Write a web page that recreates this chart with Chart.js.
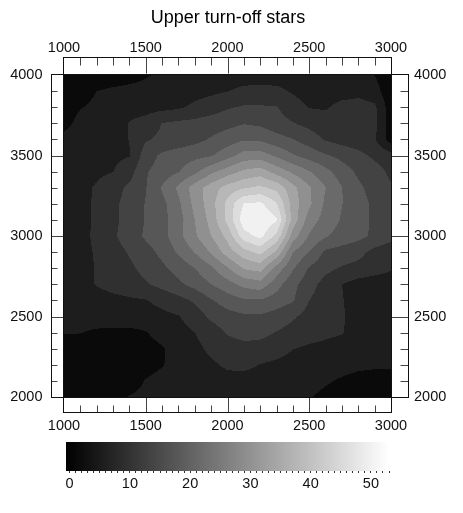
<!DOCTYPE html>
<html>
<head>
<meta charset="utf-8">
<script src="https://cdn.jsdelivr.net/npm/chart.js@4.4.1/dist/chart.umd.min.js"></script>
<style>
html,body{margin:0;padding:0;background:#fff;}
#wrap{position:relative;width:463px;height:513px;}
#wrap canvas{position:absolute;left:0;top:0;}
</style>
</head>
<body>
<div id="wrap">
<canvas id="main" width="463" height="513"></canvas>
<canvas id="cbar" width="463" height="513"></canvas>
</div>
<script>
// ---------- data ----------
const chartTitle = 'Upper turn-off stars';
const xGrid = [1000,1100,1200,1300,1400,1500,1600,1700,1800,1900,2000,2100,2200,2300,2400,2500,2600,2700,2800,2900,3000];
const yGrid = [4000,3900,3800,3700,3600,3500,3400,3300,3200,3100,3000,2900,2800,2700,2600,2500,2400,2300,2200,2100,2000];
// density[row for yGrid][column for xGrid]
const density = [
 [0.4,0.8,1.2,1.6,2.4,3.6,4.8,5.2,5.6,6.0,6.4,6.4,6.4,6.4,6.2,6.0,5.6,5.6,5.2,3.9,1.2],
 [1.2,2.4,4.0,4.8,5.2,5.4,5.6,6.0,6.6,7.2,7.9,8.8,9.0,8.8,7.6,6.4,6.0,6.4,6.8,5.6,1.2],
 [2.0,3.8,4.8,5.2,6.4,6.4,6.8,7.4,8.8,10.0,11.6,12.4,12.4,12.2,9.6,7.8,7.6,9.2,9.6,8.8,1.6],
 [2.8,5.2,5.6,6.0,8.2,9.6,12.1,12.8,13.2,14.0,14.8,15.8,15.2,13.6,12.2,10.8,9.6,10.0,10.4,9.2,2.0],
 [5.2,5.6,6.0,6.4,8.1,11.6,12.8,13.6,14.8,16.4,18.0,19.6,19.2,17.6,16.1,14.0,11.6,10.4,9.6,8.4,2.0],
 [6.0,6.4,6.8,7.2,7.8,14.0,16.8,18.0,18.8,19.6,22.4,25.6,26.0,23.2,20.4,18.4,16.4,14.8,13.2,11.2,9.6],
 [6.4,6.8,7.2,7.9,10.4,15.6,17.8,19.8,23.0,27.0,30.0,32.8,34.0,30.4,27.2,24.2,21.2,18.0,15.2,13.6,11.2],
 [6.2,7.0,8.4,10.4,12.8,15.8,20.4,24.8,30.0,34.0,37.6,39.6,40.8,38.8,33.2,28.4,24.1,20.1,16.8,14.4,12.4],
 [6.0,6.8,8.6,11.0,13.6,16.2,18.8,23.2,29.2,34.4,41.2,48.2,48.8,44.4,34.0,28.8,23.2,20.1,17.6,15.2,13.2],
 [6.0,6.8,8.6,11.0,13.6,16.2,18.6,22.2,28.0,33.4,41.2,50.4,52.0,48.4,34.4,26.0,22.4,19.6,17.6,15.2,13.2],
 [6.0,6.8,8.8,11.4,14.0,16.6,18.4,22.8,27.4,32.0,37.2,46.4,49.2,43.0,30.0,23.6,20.4,18.4,17.2,15.2,13.2],
 [6.0,6.8,8.4,10.2,12.4,14.6,17.0,20.6,24.2,28.4,34.0,38.4,41.2,35.2,24.0,19.8,15.2,14.4,13.2,10.8,9.6],
 [6.0,6.8,8.2,9.6,11.2,13.2,15.2,17.4,20.0,23.2,27.6,32.4,33.6,26.4,20.4,15.6,13.2,11.6,10.8,9.6,8.4],
 [6.0,6.8,8.2,9.2,10.2,11.6,13.2,15.2,17.4,20.0,22.4,25.2,26.4,21.6,17.2,13.6,10.4,8.0,6.4,6.0,6.0],
 [5.8,6.2,6.6,7.0,7.4,7.8,9.2,10.6,12.6,15.6,18.0,19.4,19.6,18.0,16.4,12.0,9.8,8.2,6.4,5.6,5.6],
 [5.4,5.6,5.8,6.0,6.2,6.4,7.0,7.8,10.0,12.8,14.4,15.4,15.4,14.4,12.6,10.4,9.2,8.4,6.4,5.6,5.4],
 [4.2,4.1,3.4,3.2,3.0,3.8,5.2,6.4,8.0,10.0,12.4,13.4,13.2,11.8,10.4,9.4,8.8,8.2,6.4,5.4,5.2],
 [2.4,2.2,2.0,2.0,2.2,2.8,3.7,5.4,7.0,8.8,10.0,10.8,10.4,9.6,8.1,7.4,7.0,6.4,5.8,5.2,5.0],
 [2.0,1.8,1.8,2.0,2.2,2.8,3.8,5.2,6.4,7.4,8.6,8.8,7.9,7.2,6.4,6.0,5.6,5.2,4.8,4.6,4.6],
 [1.6,1.6,1.6,1.8,2.4,4.2,5.0,5.6,6.0,6.4,6.8,6.8,6.6,6.0,5.6,5.2,4.4,3.6,2.8,2.4,2.4],
 [1.2,1.2,1.4,2.0,4.2,4.8,5.2,5.4,5.6,5.8,6.0,6.0,5.8,5.4,4.8,4.2,3.2,2.4,2.0,1.6,1.6]
];
const levels = [0,4,8,12,16,20,24,28,32,36,40,44,48];
const xTicks = [1000,1500,2000,2500,3000];
const yTicks = [2000,2500,3000,3500,4000];
const minorStep = 100;
const cbRange = [-0.6, 53];
const cbTicks = [0,10,20,30,40,50];
const cbMinorStep = 1;

// ---------- helpers ----------
const FONT = "'Liberation Sans', Arial, Helvetica, sans-serif";
const tickFont = {family: FONT, size: 14.5};
function grayOf(v) {
  const g = Math.round(255 * v / cbRange[1]);
  return Math.max(0, Math.min(255, g));
}
const bandGray = levels.map(l => grayOf(l + 2));

function sample(X, Y) {
  const nx = xGrid.length, ny = yGrid.length;
  let fx = (X - xGrid[0]) / (xGrid[1] - xGrid[0]);
  let fy = (Y - yGrid[0]) / (yGrid[1] - yGrid[0]);
  fx = Math.min(Math.max(fx, 0), nx - 1);
  fy = Math.min(Math.max(fy, 0), ny - 1);
  const i = Math.min(Math.floor(fx), nx - 2), j = Math.min(Math.floor(fy), ny - 2);
  const tx = fx - i, ty = fy - j;
  const a = density[j][i], b = density[j][i + 1], c = density[j + 1][i], d = density[j + 1][i + 1];
  return a * (1 - tx) * (1 - ty) + b * tx * (1 - ty) + c * (1 - tx) * ty + d * tx * ty;
}

const contourPlugin = {
  id: 'contourFill',
  beforeDatasetsDraw(chart) {
    const {ctx, chartArea: a, scales} = chart;
    const xs = scales.x, ys = scales.y;
    const w = Math.round(a.right - a.left), h = Math.round(a.bottom - a.top);
    const off = document.createElement('canvas');
    off.width = w; off.height = h;
    const octx = off.getContext('2d');
    const img = octx.createImageData(w, h);
    for (let j = 0; j < h; j++) {
      const Y = ys.getValueForPixel(a.top + j + 0.5);
      for (let i = 0; i < w; i++) {
        const X = xs.getValueForPixel(a.left + i + 0.5);
        const v = sample(X, Y);
        let k = 0;
        while (k < levels.length - 1 && v >= levels[k + 1]) k++;
        const g = bandGray[k];
        const o = (j * w + i) * 4;
        img.data[o] = g; img.data[o + 1] = g; img.data[o + 2] = g; img.data[o + 3] = 255;
      }
    }
    octx.putImageData(img, 0, 0);
    ctx.drawImage(off, a.left, a.top);
  }
};

const framePlugin = {
  id: 'frame',
  afterDraw(chart) {
    const {ctx, chartArea: a, scales} = chart;
    const xs = scales.x, ys = scales.y;
    const L = a.left, R = a.right, T = a.top, B = a.bottom;
    const iL = L - 0.5, iR = R + 0.5, iT = T - 0.5, iB = B + 0.5;
    const topY = T - 17.5, botY = B + 15.5, leftX = L - 12.5, rightX = R + 17.5;
    ctx.save();
    ctx.lineWidth = 1;
    ctx.strokeStyle = '#444';
    ctx.beginPath();
    const x0 = xGrid[0], x1 = xGrid[xGrid.length - 1];
    for (let v = x0 + minorStep; v < x1; v += minorStep) {
      const p = Math.round(xs.getPixelForValue(v)) + 0.5;
      const major = xTicks.includes(v);
      ctx.moveTo(p, topY); ctx.lineTo(p, major ? topY + 16 : topY + 8);
      ctx.moveTo(p, botY); ctx.lineTo(p, major ? botY - 15 : botY - 7);
    }
    const y0 = yGrid[yGrid.length - 1], y1 = yGrid[0];
    for (let v = y0 + minorStep; v < y1; v += minorStep) {
      const p = Math.round(ys.getPixelForValue(v)) + 0.5;
      const major = yTicks.includes(v);
      ctx.moveTo(leftX, p); ctx.lineTo(major ? leftX + 12 : leftX + 6, p);
      ctx.moveTo(rightX, p); ctx.lineTo(major ? rightX - 17 : rightX - 8, p);
    }
    ctx.stroke();
    ctx.strokeStyle = '#111';
    ctx.strokeRect(iL, topY, iR - iL, iT - topY);
    ctx.strokeRect(iL, iB, iR - iL, botY - iB);
    ctx.strokeRect(leftX, iT, iL - leftX, iB - iT);
    ctx.strokeRect(iR, iT, rightX - iR, iB - iT);
    ctx.restore();
  }
};

function axis(position, ticksArr, pad, fit) {
  const horizontal = position === 'top' || position === 'bottom';
  return {
    type: 'linear',
    position: position,
    min: ticksArr[0],
    max: ticksArr[ticksArr.length - 1],
    afterBuildTicks: s => { s.ticks = ticksArr.map(v => ({value: v})); },
    afterFit: s => { if (horizontal) s.height = fit; else s.width = fit; },
    grid: {display: false, drawTicks: false},
    border: {display: false},
    ticks: {
      callback: v => String(v),
      padding: pad,
      font: tickFont,
      color: '#111',
      autoSkip: false,
      maxRotation: 0,
      minRotation: 0
    }
  };
}

const gridPoints = [];
yGrid.forEach((Y, j) => xGrid.forEach((X, i) => gridPoints.push({x: X, y: Y, v: density[j][i]})));

new Chart(document.getElementById('main'), {
  type: 'scatter',
  data: {datasets: [{data: gridPoints, pointRadius: 0, pointHoverRadius: 0, showLine: false}]},
  options: {
    responsive: false,
    animation: false,
    devicePixelRatio: 1,
    layout: {padding: {left: 0, right: 7, top: 0, bottom: 0}},
    events: [],
    plugins: {
      legend: {display: false},
      tooltip: {enabled: false},
      title: {
        display: true,
        text: chartTitle,
        color: '#000',
        font: {family: FONT, size: 18, weight: 'normal'},
        padding: {top: 7, bottom: 0}
      }
    },
    scales: {
      x: axis('bottom', xTicks, 20.3, 116),
      x2: axis('top', xTicks, 18.3, 46.4),
      y: axis('left', yTicks, 21.5, 64),
      y2: axis('right', yTicks, 23, 65)
    }
  },
  plugins: [contourPlugin, framePlugin]
});

// ---------- colour bar ----------
new Chart(document.getElementById('cbar'), {
  type: 'bar',
  data: {
    labels: [''],
    datasets: [{
      data: [[cbRange[0], cbRange[1]]],
      borderWidth: 0,
      barPercentage: 1,
      categoryPercentage: 1,
      backgroundColor: (c) => {
        const ch = c.chart;
        if (!ch.chartArea) return '#000';
        const xs = ch.scales.x;
        const g = ch.ctx.createLinearGradient(xs.getPixelForValue(cbRange[0]), 0, xs.getPixelForValue(cbRange[1]), 0);
        const g0 = grayOf(Math.max(cbRange[0], 0)), g1 = grayOf(cbRange[1]);
        g.addColorStop(0, `rgb(${g0},${g0},${g0})`);
        g.addColorStop(1, `rgb(${g1},${g1},${g1})`);
        return g;
      }
    }]
  },
  options: {
    indexAxis: 'y',
    responsive: false,
    animation: false,
    devicePixelRatio: 1,
    events: [],
    layout: {padding: {left: 66, right: 74, top: 442, bottom: 0}},
    plugins: {legend: {display: false}, tooltip: {enabled: false}, title: {display: false}},
    scales: {
      y: {display: false},
      x: {
        type: 'linear',
        position: 'bottom',
        min: cbRange[0],
        max: cbRange[1],
        afterFit: s => { s.height = 42; },
        grid: {display: true, drawOnChartArea: false, drawTicks: true, tickLength: 2, color: '#333', lineWidth: 1},
        border: {display: false},
        ticks: {
          stepSize: cbMinorStep,
          includeBounds: false,
          autoSkip: false,
          maxRotation: 0,
          minRotation: 0,
          padding: 1.8,
          font: tickFont,
          color: '#111',
          callback: v => cbTicks.includes(v) ? String(v) : ''
        }
      }
    }
  }
});
</script>
</body>
</html>
